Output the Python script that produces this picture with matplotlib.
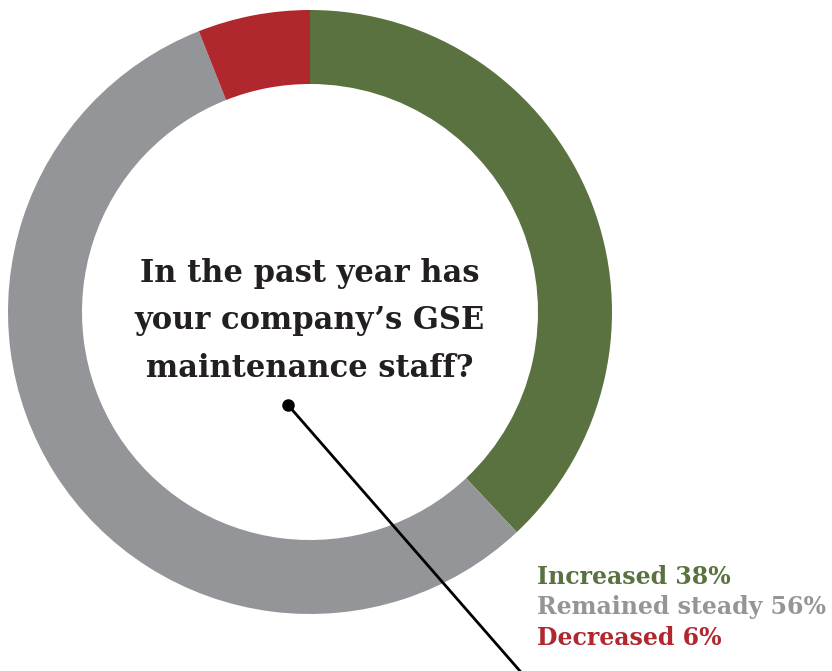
import matplotlib.pyplot as plt

# survey result: GSE maintenance staff change over the past year
labels = ["Increased", "Remained steady", "Decreased"]
shares = [38, 56, 6]
colors = ["#5a723f", "#939598", "#b0272e"]
question = "In the past year has\nyour company\u2019s GSE\nmaintenance staff?"

W, H = 832, 671
fig = plt.figure(figsize=(W / 100, H / 100), dpi=100)
ax = fig.add_axes([0, 0, 1, 1])

cx, cy = 310, H - 312
r_out, r_in = 302, 228

ax.pie(shares, colors=colors, startangle=90, counterclock=False,
       center=(cx, cy), radius=r_out, frame=True,
       wedgeprops=dict(width=r_out - r_in, linewidth=0))
ax.set_xlim(0, W)
ax.set_ylim(0, H)
ax.set_aspect("equal")
ax.axis("off")

ax.text(cx, H - 321, question, ha="center", va="center", fontsize=22,
        fontweight="bold", family="DejaVu Serif", color="#231f20",
        linespacing=1.68)

# leader line with dot
ax.plot([288, 540], [H - 405, H - 694], color="black", lw=2, clip_on=False)
ax.plot(288, H - 405, "o", color="black", ms=8)

ys = [577, 607, 638]
for lab, s, c, y in zip(labels, shares, colors, ys):
    ax.text(537, H - y, f"{lab} {s}%", ha="left", va="center", fontsize=17,
            fontweight="bold", family="DejaVu Serif", color=c)

fig.savefig("out.png", dpi=100)
